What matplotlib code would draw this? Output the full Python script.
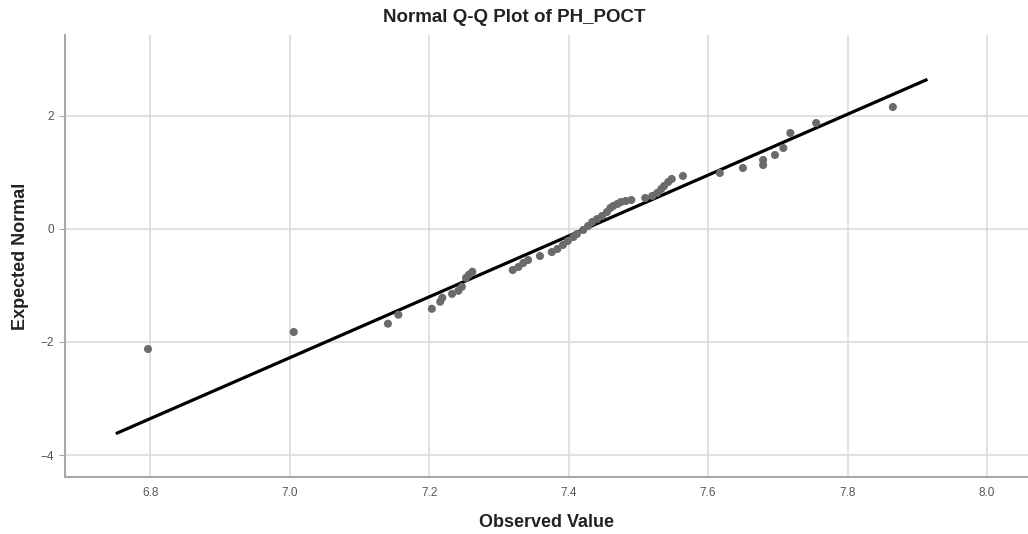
import matplotlib.pyplot as plt

# ---------------------------------------------------------
# Data (observed pH vs expected normal)
# ---------------------------------------------------------
observed = [6.797, 7.006, 7.141, 7.156, 7.204, 7.216, 7.219, 7.233, 7.242,
            7.247, 7.253, 7.257, 7.262, 7.320, 7.328, 7.335, 7.342, 7.359,
            7.376, 7.384, 7.392, 7.399, 7.407, 7.412, 7.421, 7.428, 7.434,
            7.441, 7.448, 7.455, 7.460, 7.464, 7.470, 7.475, 7.482, 7.490,
            7.510, 7.520, 7.527, 7.533, 7.537, 7.543, 7.548, 7.564, 7.617,
            7.650, 7.679, 7.679, 7.696, 7.708, 7.718, 7.755, 7.865]
expected = [-2.126, -1.825, -1.678, -1.519, -1.414, -1.290, -1.219, -1.150, -1.096,
            -1.026, -0.867, -0.813, -0.760, -0.729, -0.676, -0.605, -0.552, -0.481,
            -0.411, -0.357, -0.286, -0.216, -0.145, -0.092, -0.021, 0.050, 0.120,
            0.173, 0.226, 0.297, 0.368, 0.403, 0.439, 0.474, 0.492, 0.509,
            0.545, 0.580, 0.633, 0.704, 0.757, 0.828, 0.881, 0.934, 0.987,
            1.075, 1.128, 1.217, 1.305, 1.429, 1.694, 1.871, 2.154]

# reference line endpoints
line_x = [6.753, 7.9125]
line_y = [-3.611, 2.631]

xticks = [6.8, 7.0, 7.2, 7.4, 7.6, 7.8, 8.0]
yticks = [-4, -2, 0, 2]

# ---------------------------------------------------------
# Plot
# ---------------------------------------------------------
plt.rcParams['font.family'] = ['Liberation Sans', 'DejaVu Sans']

fig = plt.figure(figsize=(10.28, 5.34), dpi=100)
ax = fig.add_axes([65 / 1028, 1 - 477 / 534, (1028 - 65) / 1028, (477 - 35) / 534])

ax.grid(True, color='#d8d8d8', linewidth=1.1, zorder=0)
ax.set_axisbelow(True)

ax.plot(line_x, line_y, color='black', linewidth=2.3, zorder=2)
ax.scatter(observed, expected, s=34, color='#6b6b6b', edgecolors='none', zorder=3)

ax.set_xlim(6.678, 8.0588)
ax.set_ylim(-4.389, 3.427)
ax.set_xticks(xticks)
ax.set_xticklabels([f'{t:.1f}' for t in xticks])
ax.set_yticks(yticks)

for side in ['top', 'right']:
    ax.spines[side].set_visible(False)
for side in ['left', 'bottom']:
    ax.spines[side].set_color('#a8a8a8')
    ax.spines[side].set_linewidth(1.5)

ax.tick_params(axis='x', length=0, pad=7, labelsize=8.5, labelcolor='#555555')
ax.tick_params(axis='y', length=4, color='#a8a8a8', pad=4, labelsize=8.5,
               labelcolor='#555555')

fig.text(0.5, 1 - 18 / 534, 'Normal Q-Q Plot of PH_POCT', ha='center', va='center',
         fontsize=13.5, fontweight='bold', color='#222222')
ax.set_xlabel('Observed Value', fontsize=13, fontweight='bold', color='#222222',
              labelpad=11)
ax.set_ylabel('Expected Normal', fontsize=13, fontweight='bold', color='#222222',
              labelpad=8)

plt.savefig('out.png', dpi=100)
